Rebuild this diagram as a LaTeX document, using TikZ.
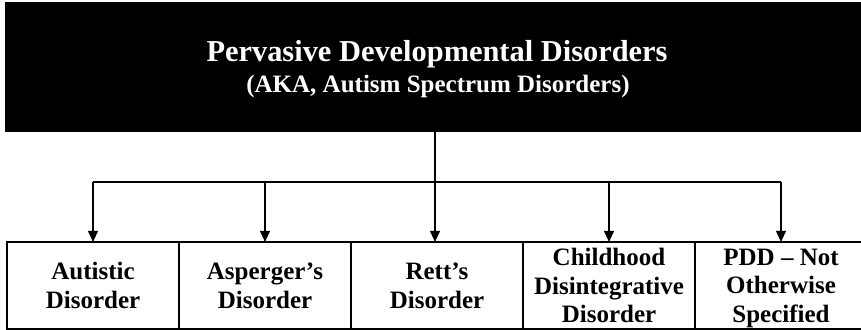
\documentclass[tikz,border=0pt]{standalone}
\usepackage{fontspec}
\setmainfont{Liberation Serif}
\usetikzlibrary{positioning,arrows.meta}

\begin{document}
\begin{tikzpicture}[x=0.5pt,y=-0.5pt,>={Triangle[width=5pt,length=5.5pt]},node distance=0pt,
  title node/.style={fill=black,minimum width=430pt,minimum height=65pt,inner sep=0pt,outer sep=0pt},
  title text/.style={text=white,anchor=base,inner sep=0pt,font=\bfseries},
  sub node/.style={draw,line width=0.7pt,minimum width=86pt,minimum height=43.6pt,inner sep=0pt,outer sep=0pt,text depth=0pt,align=center,font=\fontsize{12.5}{14.25}\selectfont\bfseries},
  link/.style={line width=0.55pt}]
    \useasboundingbox (0,0) rectangle (861,330);

    \node[title node] (pdd) at (435,67) {};
    \node[title text,font=\fontsize{15.2}{18}\selectfont\bfseries] (pddname) at (437,62) {Pervasive Developmental Disorders};
    \node[title text,font=\fontsize{12.5}{15}\selectfont\bfseries] (pddaka) at (438,93) {(AKA, Autism Spectrum Disorders)};

    \node[sub node] (autistic) at (93,285.5) {Autistic\\Disorder};
    \node[sub node] (asperger) [right=of autistic] {Asperger's\\Disorder};
    \node[sub node] (rett) [right=of asperger] {Rett's\\Disorder};
    \node[sub node] (childhood) [right=of rett] {Childhood\\Disintegrative\\Disorder};
    \node[sub node] (pddnos) [right=of childhood] {PDD -- Not\\Otherwise\\Specified};

    \coordinate (bar) at (435,182);
    \draw[link] (pdd.south) -- (pdd.south |- bar);
    \draw[link] (autistic.north |- bar) -- (pddnos.north |- bar);
    \draw[link,->] (pdd.south) -- (pdd.south |- rett.north);
    \foreach \n in {autistic,asperger,childhood,pddnos}
        \draw[link,->] (\n.north |- bar) -- (\n.north);
\end{tikzpicture}
\end{document}
